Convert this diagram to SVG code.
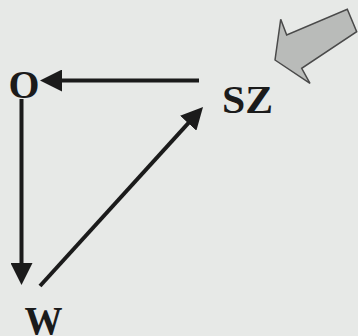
<svg xmlns="http://www.w3.org/2000/svg" width="358" height="336" viewBox="0 0 358 336">
  <style>
    .lbl { font-family: "Liberation Serif", "Times New Roman", serif; font-weight: bold; fill: #1b1b1b; }
    .conn { stroke: #1b1b1b; stroke-width: 4; fill: none; marker-end: url(#head); }
  </style>
  <defs>
    <marker id="head" markerUnits="userSpaceOnUse" markerWidth="22" markerHeight="22" viewBox="0 0 22 22" refX="12" refY="11" orient="auto">
      <path d="M0,0 L22,11 L0,22 z" fill="#1b1b1b"/>
    </marker>
  </defs>
  <rect x="0" y="0" width="358" height="336" fill="#e7e9e7"/>
  <g id="wind-arrow">
    <polygon points="275,60 280.7,19.3 286.7,35 347.3,9.3 356.7,31.7 301.7,68.3 310,83.3" fill="#b9bbb9" stroke="#4a4a4a" stroke-width="1.5" stroke-linejoin="miter"/>
  </g>
  <g id="connectors">
    <line class="conn" x1="199" y1="80.5" x2="50" y2="80.5"/>
    <line class="conn" x1="21.5" y1="99" x2="21.5" y2="275"/>
    <line class="conn" x1="40" y1="286" x2="196.3" y2="114.4"/>
  </g>
  <g id="node-O">
    <text class="lbl" x="8.5" y="98" font-size="41" textLength="31" lengthAdjust="spacingAndGlyphs">O</text>
  </g>
  <g id="node-SZ">
    <text class="lbl" x="222" y="113" font-size="41" textLength="51" lengthAdjust="spacingAndGlyphs">SZ</text>
  </g>
  <g id="node-W">
    <text class="lbl" x="24.5" y="333.5" font-size="39" textLength="38" lengthAdjust="spacingAndGlyphs">W</text>
  </g>
</svg>
